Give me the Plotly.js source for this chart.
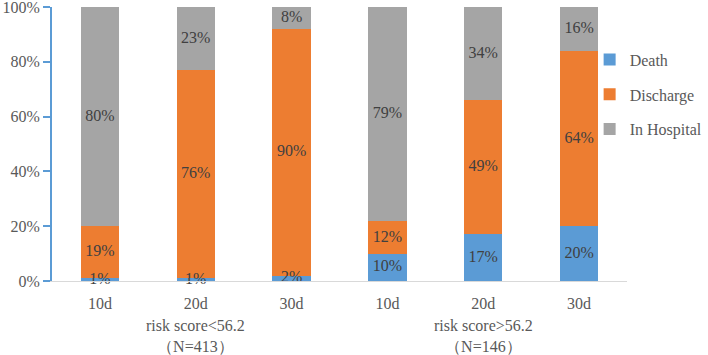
<!DOCTYPE html>
<html>
<head>
<meta charset="utf-8">
<script src="https://cdn.plot.ly/plotly-3.0.1.min.js"></script>
<style>
html,body{margin:0;padding:0;background:#fff;}
#chart{width:708px;height:355px;}
</style>
</head>
<body>
<div id="chart"></div>
<script>
const groups = ['risk score<56.2<br>（N=413）', 'risk score>56.2<br>（N=146）'];
const groupOf = [0, 0, 0, 1, 1, 1];
const days = ['10d','20d','30d','10d','20d','30d'];
const death = [1, 1, 2, 10, 17, 20];
const discharge = [19, 76, 90, 12, 49, 64];
const inHospital = [80, 23, 8, 79, 34, 16];

const FONT = 'Times New Roman, Liberation Serif, serif';
const pos = days.map((_, i) => i);
const series = [
  {name: 'Death', vals: death, color: '#5B9BD5'},
  {name: 'Discharge', vals: discharge, color: '#ED7D31'},
  {name: 'In Hospital', vals: inHospital, color: '#A5A5A5'}
];
const totals = days.map((_, i) => death[i] + discharge[i] + inHospital[i]);
const traces = [];
series.forEach((s) => {
  traces.push({
    type: 'bar', name: s.name, x: pos, y: s.vals,
    marker: {color: s.color}, width: 0.4,
    legendgroup: s.name, hoverinfo: 'skip'
  });
});
const cum = days.map(() => 0);
series.forEach((s) => {
  const ys = s.vals.map((v, i) => (cum[i] + v / 2) / totals[i] * 100);
  s.vals.forEach((v, i) => { cum[i] += v; });
  traces.push({
    type: 'scatter', mode: 'text', x: pos, y: ys,
    text: s.vals.map(v => v + '%'),
    textfont: {family: FONT, size: 16, color: '#404040'},
    showlegend: false, hoverinfo: 'skip', cliponaxis: false
  });
});

const annotations = groups.map((g, gi) => {
  const idx = pos.filter(i => groupOf[i] === gi);
  const mid = idx.reduce((a, b) => a + b, 0) / idx.length;
  return {
    x: mid, xref: 'x', y: 0, yref: 'paper', yanchor: 'top', yshift: -34,
    text: g, showarrow: false,
    font: {family: FONT, size: 16, color: '#595959'}
  };
});

const layout = {
  width: 708, height: 355,
  margin: {l: 52, r: 81, t: 7, b: 74, autoexpand: false},
  paper_bgcolor: '#fff', plot_bgcolor: '#fff',
  barmode: 'stack', barnorm: 'percent',
  font: {family: FONT, size: 16, color: '#595959'},
  xaxis: {
    range: [-0.5, 5.5],
    tickvals: pos, ticktext: days,
    showline: true, linecolor: '#D9D9D9', linewidth: 1,
    showgrid: false, ticks: '', zeroline: false, ticklabelstandoff: 8,
    tickfont: {family: FONT, size: 16, color: '#595959'}
  },
  yaxis: {
    range: [0, 100.001], tickvals: [0, 20, 40, 60, 80, 100],
    ticktext: ['0%', '20%', '40%', '60%', '80%', '100%'],
    showline: true, linecolor: '#5B9BD5', linewidth: 2,
    ticks: 'outside', tickcolor: '#5B9BD5', ticklen: 7, tickwidth: 2,
    showgrid: false, zeroline: false, ticklabeloverflow: 'allow',
    tickfont: {family: FONT, size: 16, color: '#595959'}
  },
  annotations: annotations,
  showlegend: true,
  legend: {
    x: 0.935, y: 0.87, xanchor: 'left', yanchor: 'top',
    traceorder: 'grouped', tracegroupgap: 11,
    font: {family: FONT, size: 16, color: '#595959'},
    bgcolor: 'rgba(0,0,0,0)', itemwidth: 30
  }
};
Plotly.newPlot('chart', traces, layout, {displayModeBar: false, staticPlot: true});
</script>
</body>
</html>
